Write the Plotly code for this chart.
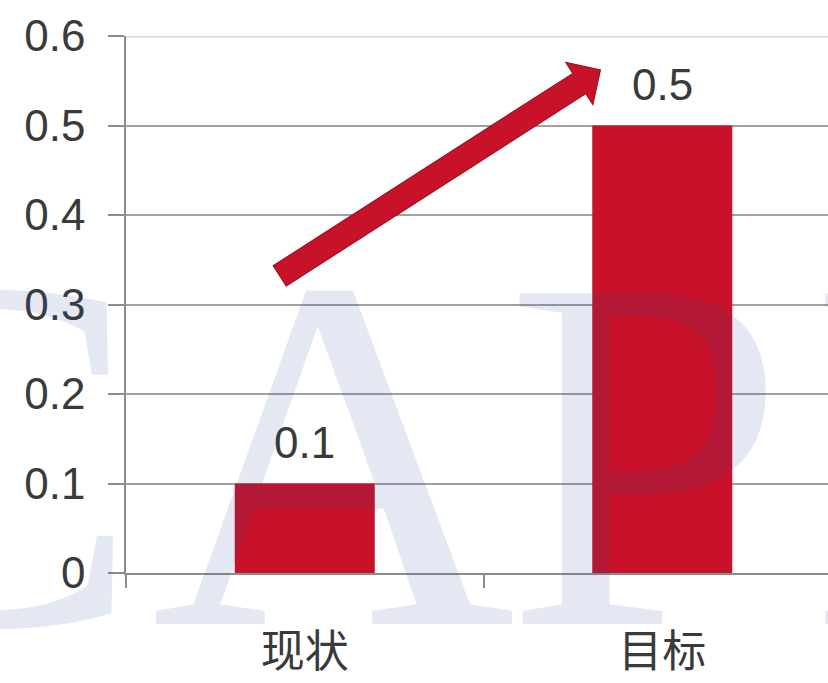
import plotly.graph_objects as go

# ---- data ----
categories = ["现状", "目标"]
values = [0.1, 0.5]
y_ticks = [0, 0.1, 0.2, 0.3, 0.4, 0.5, 0.6]
y_tick_labels = ["0", "0.1", "0.2", "0.3", "0.4", "0.5", "0.6"]

# trend arrow from the current bar up toward the target label (data units)
arrow_tail = (-0.07, 0.332)
arrow_tip = (0.827, 0.562)

# background lettering: letter and horizontal centre in pixels
wm_letters = ["C", "A", "P", "I"]
wm_centers = [-28, 333, 645, 891]

# ---- layout geometry ----
W, H = 828, 683
M_L, M_R, M_T, M_B = 126, 0, 36, 110
PW, PH = W - M_L - M_R, H - M_T - M_B
CAT_STEP = 357.5                      # pixels per category
X_RANGE = [-0.5, -0.5 + PW / CAT_STEP]
Y_RANGE = [0, 0.6]

BAR_RED = "#c8122a"
GRID = "#a0a0a0"
TEXT = "#3a3a3a"


def to_px(x, y):
    px = M_L + (x - X_RANGE[0]) / (X_RANGE[1] - X_RANGE[0]) * PW
    py = M_T + (Y_RANGE[1] - y) / (Y_RANGE[1] - Y_RANGE[0]) * PH
    return px, py


def px_to_paper(px, py):
    return (px - M_L) / PW, (H - M_B - py) / PH


def block_arrow(tail, tip, half_shaft=12, half_head=25, head_len=25):
    tx, ty = to_px(*tail)
    hx, hy = to_px(*tip)
    dx, dy = hx - tx, hy - ty
    L = (dx * dx + dy * dy) ** 0.5
    ux, uy = dx / L, dy / L
    nx, ny = -uy, ux
    bx, by = hx - ux * head_len, hy - uy * head_len
    pts = [
        (tx + nx * half_shaft, ty + ny * half_shaft),
        (bx + nx * half_shaft, by + ny * half_shaft),
        (bx + nx * half_head, by + ny * half_head),
        (hx, hy),
        (bx - nx * half_head, by - ny * half_head),
        (bx - nx * half_shaft, by - ny * half_shaft),
        (tx - nx * half_shaft, ty - ny * half_shaft),
    ]
    paper = [px_to_paper(px, py) for px, py in pts]
    return "M " + " L ".join(f"{a:.5f},{b:.5f}" for a, b in paper) + " Z"


fig = go.Figure()
fig.add_trace(go.Bar(
    x=categories, y=values,
    width=140 / CAT_STEP,
    marker=dict(color=BAR_RED, line=dict(width=0)),
    hoverinfo="skip",
))

# value labels above the bars
for c, v in zip(categories, values):
    fig.add_annotation(
        x=c, y=v, xref="x", yref="y", text=f"{v:g}", showarrow=False,
        yanchor="bottom", yshift=15,
        font=dict(family="Liberation Sans, Arial", size=44, color=TEXT),
    )

# lighter top border line
fig.add_shape(type="line", xref="paper", yref="y", x0=0, x1=1, y0=0.6, y1=0.6,
              line=dict(color="#d4d4d4", width=3), layer="above")

# trend arrow
fig.add_shape(type="path", xref="paper", yref="paper",
              path=block_arrow(arrow_tail, arrow_tip),
              fillcolor=BAR_RED, line=dict(color="#9e1020", width=1.2),
              layer="above")

# faint background lettering
for letter, cx in zip(wm_letters, wm_centers):
    wx, wy = px_to_paper(cx, 453)
    fig.add_annotation(
        x=wx, y=wy, xref="paper", yref="paper", text=letter, showarrow=False,
        xanchor="center", yanchor="middle",
        font=dict(family="Liberation Serif, Times New Roman", size=505,
                  color="rgba(40,75,150,0.125)"),
    )

fig.update_layout(
    width=W, height=H, autosize=False,
    margin=dict(l=M_L, r=M_R, t=M_T, b=M_B, pad=0, autoexpand=False),
    plot_bgcolor="white", paper_bgcolor="white",
    showlegend=False,
    xaxis=dict(
        type="category", range=X_RANGE, fixedrange=True, automargin=False,
        showgrid=False, zeroline=False,
        showline=True, linecolor="#8c8c8c", linewidth=1.5,
        ticks="outside", tickson="boundaries", ticklen=13,
        tickcolor="#8c8c8c", tickwidth=1.5,
        tickfont=dict(family="Noto Sans CJK SC", size=44, color=TEXT),
        ticklabelstandoff=39,
    ),
    yaxis=dict(
        range=Y_RANGE, fixedrange=True, automargin=False,
        tickmode="array", tickvals=y_ticks, ticktext=y_tick_labels,
        showgrid=True, gridcolor=GRID, gridwidth=1.5, zeroline=False,
        showline=True, linecolor="#8c8c8c", linewidth=1.5,
        ticks="outside", ticklen=16, tickcolor="#8c8c8c", tickwidth=1.5,
        tickfont=dict(family="Liberation Sans, Arial", size=44, color=TEXT),
        ticklabelstandoff=14,
    ),
)

fig.write_html("out.html")
